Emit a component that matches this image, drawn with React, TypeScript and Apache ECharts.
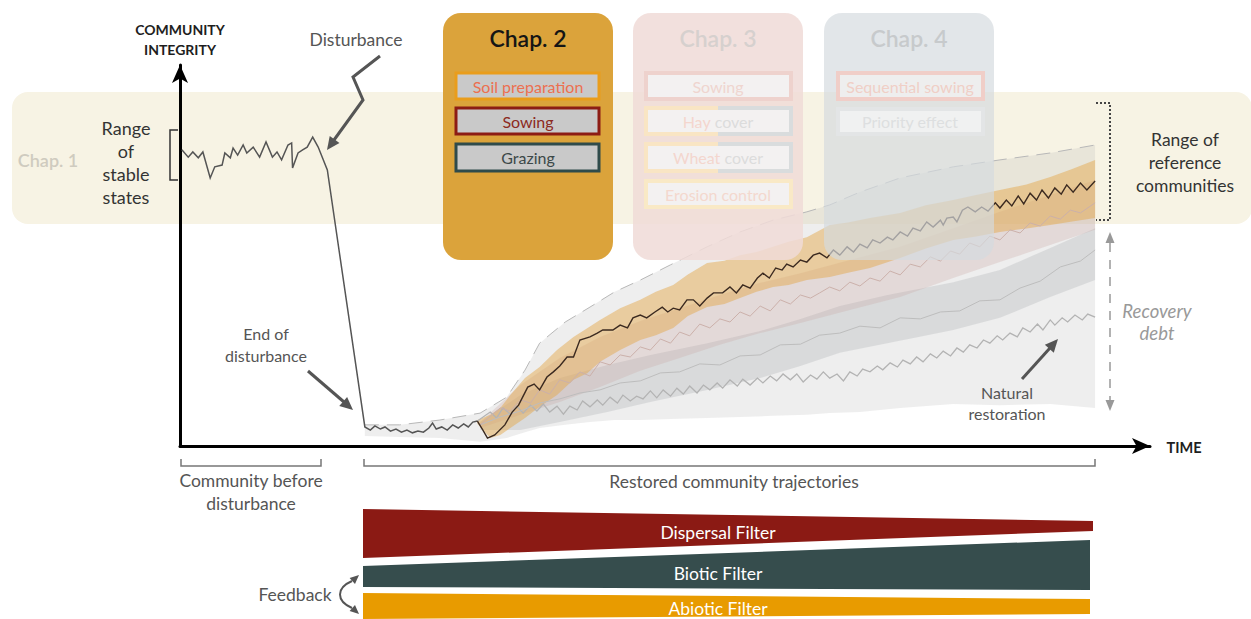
import React, { useEffect, useRef } from "react";
import * as echarts from "echarts";

// ---------- DATA (time units 0..106, integrity units 0..110) ----------
const disturbedTrajectory: [number, number][] = [
  [0.2, 85.5], [0.9, 83.4], [1.4, 84.9], [2.0, 83.2], [2.5, 84.9], [3.3, 77.4], [3.8, 80.6], [4.6, 81.1],
  [4.9, 84.6], [5.5, 83.2], [5.8, 86.0], [6.3, 84.0], [6.9, 86.9], [7.3, 84.6], [8.0, 86.3], [8.7, 83.4],
  [9.4, 87.8], [10.1, 83.4], [10.6, 84.9], [11.1, 82.6], [11.8, 86.9], [12.2, 87.5], [12.3, 80.3], [12.9, 84.6],
  [13.4, 85.5], [13.9, 86.3], [14.5, 89.2], [15.1, 86.3], [16.1, 79.7], [20.2, 5.5],
  [20.8, 4.6], [21.3, 5.8], [21.9, 4.9], [22.4, 5.5], [23.0, 4.3], [23.6, 4.9], [24.2, 4.0], [24.8, 4.6],
  [25.4, 3.8], [26.0, 4.3], [26.6, 4.0], [27.2, 5.2], [27.6, 6.6], [28.0, 4.9], [28.6, 5.5], [29.2, 4.6],
  [29.8, 6.1], [30.4, 5.2], [31.0, 6.4], [31.5, 5.5], [32.0, 6.9], [32.5, 7.2],
];

const restoredTrajectory: [number, number][] = [
  [32.5, 7.2], [33.1, 4.6], [33.6, 2.3], [34.4, 3.2], [35.5, 6.1], [36.3, 9.8], [37.0, 11.8], [38.0, 17.0],
  [38.7, 17.9], [39.3, 16.2], [40.1, 19.9], [40.8, 21.4], [41.5, 23.1], [42.3, 25.7], [43.0, 25.7], [43.7, 30.6],
  [44.8, 31.5], [45.6, 32.6], [46.2, 33.5], [47.3, 33.5], [48.1, 34.9], [48.9, 34.1], [49.5, 37.0], [50.3, 37.8],
  [51.0, 37.0], [51.9, 38.7], [52.7, 40.1], [53.3, 38.7], [53.9, 39.8], [54.6, 39.3], [55.4, 42.2], [56.1, 42.2],
  [56.8, 40.4], [57.6, 42.7], [58.3, 44.2], [59.3, 44.2], [60.1, 45.9], [60.8, 44.2], [61.5, 46.5], [62.3, 45.6],
  [63.1, 48.5], [63.7, 49.9], [64.4, 48.5], [65.1, 51.4], [65.8, 50.8], [66.3, 52.5], [67.0, 51.7], [67.8, 53.7],
  [68.5, 53.1], [69.2, 55.1], [69.9, 55.7], [70.7, 54.3], [71.4, 56.6], [72.1, 55.1], [72.9, 57.5], [73.6, 56.0],
  [74.3, 58.3], [75.1, 57.2], [75.7, 59.5], [76.5, 58.6], [77.3, 60.3], [77.9, 59.5], [78.7, 61.8], [79.5, 60.6],
  [80.1, 62.9], [80.9, 62.1], [81.6, 64.7], [82.3, 63.2], [83.1, 65.2], [83.4, 63.8], [83.8, 65.8], [84.5, 66.1],
  [84.9, 64.7], [85.5, 68.1], [86.1, 69.0], [86.9, 67.6], [87.6, 69.0], [88.3, 67.8], [89.1, 70.2], [89.6, 68.7],
  [90.3, 71.0], [90.9, 69.3], [91.6, 72.2], [92.2, 69.9], [92.9, 73.0], [93.6, 71.0], [94.2, 73.9], [94.9, 71.6],
  [95.6, 74.5], [96.3, 72.7], [96.9, 75.4], [97.6, 73.3], [98.4, 75.9], [99.1, 73.9], [100, 76.5],
];

const naturalTrajectory: [number, number][] = [
  [32.5, 7.2], [33.9, 9.8], [34.6, 8.1], [35.3, 11.0], [36.1, 9.2], [36.8, 11.5], [37.5, 9.5], [38.3, 11.8],
  [39.0, 10.1], [39.7, 12.1], [40.4, 9.8], [41.2, 11.5], [41.9, 9.2], [42.6, 11.5], [43.4, 10.4], [44.0, 13.0],
  [44.8, 11.3], [45.6, 13.3], [46.2, 11.8], [47.0, 14.1], [47.8, 12.4], [48.4, 14.7], [49.2, 13.0], [49.9, 14.4],
  [50.6, 13.6], [51.4, 15.9], [52.1, 13.9], [52.8, 16.2], [53.6, 14.4], [54.3, 16.7], [55.0, 15.0], [55.7, 17.3],
  [56.5, 15.3], [57.2, 17.6], [57.9, 16.2], [58.7, 18.2], [59.3, 16.7], [60.1, 19.1], [60.9, 17.3], [61.5, 19.3],
  [62.3, 17.6], [63.1, 19.6], [63.7, 18.2], [64.5, 20.2], [65.2, 18.8], [65.9, 20.8], [66.7, 19.1], [67.4, 20.8],
  [68.1, 18.5], [68.9, 20.5], [69.6, 19.3], [70.3, 21.4], [71.0, 19.6], [71.8, 20.8], [72.5, 18.8], [73.2, 21.4],
  [74.0, 20.2], [74.6, 22.2], [75.4, 21.4], [76.2, 23.1], [76.8, 22.0], [77.6, 24.0], [78.4, 22.8], [79.0, 24.8],
  [79.8, 23.7], [80.5, 25.7], [81.2, 24.3], [82.0, 26.6], [82.7, 25.4], [83.4, 27.4], [84.2, 26.0], [84.9, 28.3],
  [85.6, 27.1], [86.3, 29.2], [87.1, 28.3], [87.8, 30.6], [88.5, 29.7], [89.3, 31.8], [89.9, 30.6], [90.7, 32.6],
  [91.5, 31.5], [92.1, 34.1], [92.9, 32.9], [93.7, 35.2], [94.3, 33.5], [95.1, 36.4], [95.6, 34.9], [96.4, 37.0],
  [97.0, 35.8], [97.8, 37.8], [98.6, 36.4], [99.2, 38.1], [100, 37.2],
];

const mauveTrajectory: [number, number][] = [
  [32.8, 6.1], [35.0, 11.0], [36.1, 10.1], [37.2, 13.3], [38.3, 12.4], [39.3, 16.2], [40.4, 15.0], [41.5, 19.1],
  [42.6, 18.2], [43.7, 21.4], [44.8, 20.2], [45.9, 24.3], [47.0, 23.4], [48.1, 26.3], [49.2, 25.7], [50.3, 28.6],
  [51.4, 27.7], [52.5, 30.9], [53.6, 29.7], [54.6, 32.9], [55.7, 31.8], [56.8, 35.2], [57.9, 34.1], [59.0, 36.7],
  [60.1, 35.8], [61.2, 38.7], [62.3, 37.5], [63.4, 40.4], [64.5, 39.0], [65.6, 42.2], [66.7, 41.0], [67.8, 43.6],
  [68.9, 42.7], [69.9, 44.2], [71.0, 45.9], [72.1, 44.8], [73.2, 47.3], [74.3, 46.2], [75.4, 48.5], [76.5, 47.6],
  [77.6, 50.5], [78.7, 49.4], [79.8, 52.5], [80.9, 51.7], [82.0, 54.6], [83.1, 53.4], [84.2, 56.3], [85.2, 55.4],
  [86.3, 58.6], [87.4, 57.5], [88.5, 60.6], [89.6, 59.5], [90.7, 62.4], [91.8, 61.5], [92.9, 64.4], [94.0, 63.5],
  [95.1, 66.4], [96.2, 65.5], [97.3, 68.1], [98.4, 67.3], [100, 70.2],
];

const grayTrajectory: [number, number][] = [
  [32.8, 6.1], [35.0, 8.4], [37.2, 10.1], [39.3, 12.4], [41.5, 13.6], [43.7, 15.3], [45.9, 16.2], [48.1, 18.2],
  [50.3, 18.8], [52.5, 21.1], [54.6, 21.4], [56.8, 23.7], [59.0, 23.4], [61.2, 26.0], [63.4, 26.3], [65.6, 29.2],
  [67.8, 29.4], [69.9, 32.0], [72.1, 32.6], [74.3, 34.6], [76.5, 34.1], [78.7, 37.0], [80.9, 36.7], [83.1, 38.7],
  [85.2, 39.0], [87.4, 41.9], [89.6, 42.2], [91.8, 45.6], [94.0, 47.6], [96.2, 51.7], [98.4, 53.4], [100, 56.6],
];

// bands: [time, lower, upper]
const outerBand: [number, number, number][] = [
  [20.2, 2.9, 6.1], [24.0, 2.6, 6.1], [28.4, 2.3, 7.5], [32.8, 1.2, 9.5], [35.7, 2.3, 14.1], [37.7, 4.0, 21.9],
  [39.3, 5.2, 29.7], [42.1, 6.1, 35.8], [44.8, 6.9, 40.1], [47.5, 7.5, 44.5], [50.3, 7.5, 47.9], [53.6, 7.8, 52.3],
  [57.6, 8.1, 57.5], [61.2, 8.4, 61.8], [64.8, 8.7, 65.2], [68.5, 9.0, 67.6], [71.0, 9.5, 69.6], [74.3, 9.8, 73.3],
  [78.7, 11.0, 77.4], [84.5, 12.1, 80.6], [89.6, 11.8, 82.6], [95.1, 12.1, 84.6], [100, 11.0, 86.9],
];

const grayBand: [number, number, number][] = [
  [32.8, 4.6, 6.9], [37.2, 4.6, 14.7], [41.5, 6.9, 19.6], [46.7, 9.8, 23.4], [51.4, 12.7, 26.3], [57.6, 16.2, 29.7],
  [63.4, 19.6, 33.2], [67.8, 23.1, 36.7], [72.1, 26.9, 40.4], [77.3, 29.7, 43.6], [84.5, 33.5, 47.3],
  [89.6, 37.0, 50.8], [95.1, 43.0, 57.2], [100, 47.9, 62.9],
];

const mauveBand: [number, number, number][] = [
  [32.8, 5.2, 6.9], [37.2, 9.0, 17.6], [41.5, 12.7, 25.4], [45.9, 17.0, 31.5], [50.3, 21.7, 36.1], [54.6, 25.4, 39.8],
  [59.0, 29.2, 43.6], [63.4, 32.6, 47.1], [67.8, 35.5, 49.9], [73.2, 39.3, 53.7], [78.7, 43.0, 57.5],
  [84.5, 48.5, 62.9], [89.6, 53.1, 67.6], [95.1, 58.0, 72.5], [100, 62.4, 76.8],
];

const orangeBand: [number, number, number][] = [
  [32.5, 6.4, 7.5], [33.9, 2.3, 9.0], [35.0, 3.2, 11.0], [36.1, 5.2, 14.7], [37.7, 8.1, 19.6], [39.3, 11.3, 22.8],
  [41.2, 14.7, 27.7], [43.0, 19.1, 31.5], [44.5, 21.0, 34.0], [45.9, 24.3, 36.4], [48.1, 27.7, 39.8],
  [50.3, 30.6, 42.2], [52.0, 32.0, 44.5], [53.9, 34.1, 46.5], [55.5, 37.5, 49.5], [57.6, 40.1, 52.8],
  [59.5, 41.0, 53.5], [61.2, 42.7, 55.1], [63.0, 44.5, 56.0], [64.8, 45.9, 57.5], [66.5, 46.5, 59.0],
  [68.5, 47.9, 60.3], [71.0, 48.8, 63.8], [73.0, 50.0, 64.5], [75.4, 51.4, 65.8], [78.7, 54.3, 67.3],
  [81.5, 57.0, 69.5], [84.5, 59.5, 71.0], [87.0, 60.5, 72.5], [89.6, 61.8, 73.9], [92.5, 62.8, 75.5],
  [95.1, 63.8, 77.7], [97.5, 64.8, 80.0], [100, 65.8, 82.6],
];

// ---------- STYLE ----------
const FONT = "Lato, 'Open Sans', sans-serif";

function bandSeries(name: string, band: [number, number, number][], fill: string, edge?: string) {
  return {
    type: "custom",
    name,
    silent: true,
    clip: false,
    data: [[band[0][0], band[0][1]]],
    renderItem: (_params: any, api: any) => {
      const top = band.map((d) => api.coord([d[0], d[2]]));
      const bot = band.map((d) => api.coord([d[0], d[1]])).reverse();
      const children: any[] = [
        { type: "polygon", shape: { points: top.concat(bot) }, style: { fill } },
      ];
      if (edge) {
        children.push({
          type: "polyline",
          shape: { points: top },
          style: { stroke: edge, fill: null, lineWidth: 1, lineDash: [14, 8] },
        });
      }
      return { type: "group", children };
    },
  };
}

function lineSeries(name: string, data: [number, number][], color: string, width: number, z = 3) {
  return {
    type: "line",
    name,
    data,
    symbol: "none",
    silent: true,
    z,
    lineStyle: { color, width, join: "miter" },
  };
}

function txt(x: number, y: number, text: string, size: number, fill: string, extra: any = {}) {
  return {
    type: "text",
    x,
    y,
    z: 30,
    silent: true,
    style: {
      text,
      fill,
      fontSize: size,
      fontFamily: FONT,
      align: "center",
      verticalAlign: "middle",
      lineHeight: Math.round(size * 1.35),
      ...extra,
    },
  };
}

function rect(x: number, y: number, w: number, h: number, fill: string, stroke?: string, lw = 0, r = 0, z = 20) {
  return {
    type: "rect",
    z,
    silent: true,
    shape: { x, y, width: w, height: h, r },
    style: { fill, stroke: stroke || null, lineWidth: lw },
  };
}

function arrowHead(tip: [number, number], from: [number, number], len: number, half: number, color: string) {
  const dx = tip[0] - from[0];
  const dy = tip[1] - from[1];
  const L = Math.hypot(dx, dy);
  const ux = dx / L, uy = dy / L;
  const bx = tip[0] - ux * len, by = tip[1] - uy * len;
  return {
    type: "polygon",
    z: 30,
    silent: true,
    shape: { points: [tip, [bx - uy * half, by + ux * half], [bx + uy * half, by - ux * half]] },
    style: { fill: color },
  };
}

function pline(points: number[][], stroke: string, lw: number, extra: any = {}, z = 30) {
  return { type: "polyline", z, silent: true, shape: { points }, style: { stroke, lineWidth: lw, fill: null, ...extra } };
}

function buildGraphics() {
  const g: any[] = [];
  // background yellow band (Chap. 1)
  g.push(rect(12, 92, 1240, 132, "#f7f3e4", undefined, 0, 16, -10));
  g.push(txt(48, 160, "Chap. 1", 18, "#cfcbbf", { fontWeight: 600 }));

  // Chap 2
  g.push(rect(443, 13, 170, 247, "#dba33b", undefined, 0, 18, 20));
  g.push(txt(528, 38, "Chap. 2", 23, "#151515", { fontWeight: 600 }));
  g.push(rect(456, 73, 143, 26, "#c9c9c9", "#e99d1c", 3, 0, 21));
  g.push(txt(528, 86, "Soil preparation", 16, "#ec7050"));
  g.push(rect(456, 108, 143, 26, "#c9c9c9", "#8c1c14", 3, 0, 21));
  g.push(txt(528, 121, "Sowing", 16, "#8c2a22"));
  g.push(rect(456, 144, 143, 27, "#c9c9c9", "#2f4b4b", 3, 0, 21));
  g.push(txt(528, 157, "Grazing", 16, "#3c4848"));

  // Chap 3 (faded)
  const rich = {
    a: { fill: "#f4d6ce", fontSize: 16, fontFamily: FONT },
    b: { fill: "#dcdcdc", fontSize: 16, fontFamily: FONT },
  };
  g.push(rect(633, 13, 170, 247, "rgba(240,219,215,0.86)", undefined, 0, 18, 20));
  g.push(txt(718, 38, "Chap. 3", 23, "#d6d0ce", { fontWeight: 600 }));
  g.push(rect(646, 73, 145, 26, "#f3f1f1", "#eed2cd", 4, 0, 21));
  g.push(txt(718, 86, "Sowing", 16, "#efd5cf"));
  g.push(rect(646, 108, 145, 26, "#f3f1f1", "#d9dcdd", 4, 0, 21));
  g.push(pline([[718, 108], [646, 108], [646, 134], [718, 134]], "#f9e5c4", 4, {}, 22));
  g.push(txt(718, 121, "{a|Hay} {b|cover}", 16, "#dfdfdf", { rich }));
  g.push(rect(646, 144, 145, 27, "#f3f1f1", "#d9dcdd", 4, 0, 21));
  g.push(pline([[718, 144], [646, 144], [646, 171], [718, 171]], "#f9e5c4", 4, {}, 22));
  g.push(txt(718, 157, "{a|Wheat} {b|cover}", 16, "#dfdfdf", { rich }));
  g.push(rect(646, 181, 145, 26, "#f3f1f1", "#f9e9c6", 4, 0, 21));
  g.push(txt(718, 194, "Erosion control", 16, "#f4d8ce"));

  // Chap 4 (faded)
  g.push(rect(824, 13, 170, 247, "rgba(212,218,222,0.68)", undefined, 0, 18, 20));
  g.push(txt(909, 38, "Chap. 4", 23, "#c7cacc", { fontWeight: 600 }));
  g.push(rect(838, 73, 145, 26, "#eeeeee", "#f0cec8", 4, 0, 21));
  g.push(txt(910, 86, "Sequential sowing", 16, "#f0cfc6"));
  g.push(rect(838, 109, 145, 25, "#f0f1f1", "#e3e5e6", 4, 0, 21));
  g.push(txt(910, 121, "Priority effect", 16, "#dddfe0"));

  // axis titles
  g.push(txt(180, 29, "COMMUNITY", 14, "#1e1e1e", { fontWeight: "bold" }));
  g.push(txt(180, 49, "INTEGRITY", 14, "#1e1e1e", { fontWeight: "bold" }));
  g.push(txt(1184, 447, "TIME", 14.5, "#1e1e1e", { fontWeight: "bold" }));

  // range of stable states
  g.push(pline([[178, 130], [170, 130], [170, 180], [178, 180]], "#333", 1.5));
  g.push(txt(126, 162, "Range\nof\nstable\nstates", 18, "#333", { lineHeight: 23 }));

  // disturbance
  g.push(txt(356, 39, "Disturbance", 17.5, "#555"));
  g.push(pline([[380, 56], [353, 77], [363, 100], [334, 140]], "#555", 3));
  g.push(arrowHead([327, 150], [363, 100], 13, 6, "#555"));

  // end of disturbance
  g.push(txt(266, 344, "End of\ndisturbance", 16, "#555", { lineHeight: 22 }));
  g.push(pline([[308, 371], [344, 402]], "#555", 3));
  g.push(arrowHead([353, 410], [308, 371], 13, 6, "#555"));

  // reference communities
  g.push(pline([[1096, 103], [1110, 103], [1110, 220], [1096, 220]], "#444", 2, { lineDash: [2, 2] }));
  g.push(txt(1185, 162, "Range of\nreference\ncommunities", 17.5, "#333", { lineHeight: 23 }));

  // recovery debt
  g.push(pline([[1110, 243], [1110, 400]], "#999", 1.5, { lineDash: [9, 8] }));
  g.push(arrowHead([1110, 232], [1110, 260], 11, 4.5, "#999"));
  g.push(arrowHead([1110, 411], [1110, 380], 11, 4.5, "#999"));
  g.push(txt(1157, 322, "Recovery\ndebt", 18.5, "#999", { fontStyle: "italic", lineHeight: 22 }));

  // natural restoration
  g.push(pline([[1022, 379], [1050, 348]], "#555", 3));
  g.push(arrowHead([1058, 339], [1022, 379], 13, 6, "#555"));
  g.push(txt(1007, 403, "Natural\nrestoration", 16, "#555", { lineHeight: 21 }));

  // bottom brackets
  g.push(pline([[181, 459], [181, 466], [321, 466], [321, 459]], "#777", 1.5));
  g.push(txt(251, 492, "Community before\ndisturbance", 17.5, "#555", { lineHeight: 23 }));
  g.push(pline([[364, 459], [364, 466], [1095, 466], [1095, 459]], "#777", 1.5));
  g.push(txt(734, 481, "Restored community trajectories", 17.5, "#555"));

  // filters
  g.push({ type: "polygon", z: 20, silent: true, shape: { points: [[363, 509], [1093, 521], [1093, 531], [363, 558]] }, style: { fill: "#8b1a14" } });
  g.push(txt(718, 532, "Dispersal Filter", 17.5, "#ffffff"));
  g.push({ type: "polygon", z: 20, silent: true, shape: { points: [[363, 566], [1090, 540], [1090, 590], [363, 587]] }, style: { fill: "#364d4d" } });
  g.push(txt(718, 573, "Biotic Filter", 17.5, "#ffffff"));
  g.push({ type: "polygon", z: 20, silent: true, shape: { points: [[363, 593], [1090, 599], [1090, 614], [363, 619]] }, style: { fill: "#e89b00" } });
  g.push(txt(718, 608, "Abiotic Filter", 17.5, "#ffffff"));

  // feedback
  g.push(txt(295, 594, "Feedback", 17.5, "#555"));
  g.push({
    type: "bezierCurve", z: 30, silent: true,
    shape: { x1: 352, y1: 581, x2: 352, y2: 608, cpx1: 336, cpy1: 588, cpx2: 336, cpy2: 601 },
    style: { stroke: "#555", lineWidth: 2, fill: null },
  });
  g.push(arrowHead([359, 575], [349, 584], 9, 4, "#555"));
  g.push(arrowHead([359, 614], [349, 605], 9, 4, "#555"));
  return g;
}

export default function App() {
  const ref = useRef<HTMLDivElement>(null);
  useEffect(() => {
    if (!ref.current) return;
    const chart = echarts.init(ref.current, null, { renderer: "svg" });
    chart.setOption({
      animation: false,
      backgroundColor: "#ffffff",
      grid: { left: 180, top: 65, width: 970, height: 381, containLabel: false, outerBoundsMode: "none" },
      xAxis: {
        type: "value",
        min: 0,
        max: 106,
        axisLine: { show: true, symbol: ["none", "arrow"], symbolSize: [12, 18], lineStyle: { color: "#000", width: 3 } },
        axisTick: { show: false },
        axisLabel: { show: false },
        splitLine: { show: false },
      },
      yAxis: {
        type: "value",
        min: 0,
        max: 110,
        axisLine: { show: true, symbol: ["none", "arrow"], symbolSize: [12, 18], lineStyle: { color: "#000", width: 3 } },
        axisTick: { show: false },
        axisLabel: { show: false },
        splitLine: { show: false },
      },
      series: [
        bandSeries("Natural range", outerBand, "rgba(185,185,185,0.24)", "#b8b8b8"),
        bandSeries("Gray band", grayBand, "rgba(165,168,172,0.28)"),
        bandSeries("Mauve band", mauveBand, "rgba(200,165,160,0.28)"),
        bandSeries("Chap. 2 band", orangeBand, "rgba(228,170,80,0.5)"),
        lineSeries("Natural restoration", naturalTrajectory, "#b3b3b3", 1.3),
        lineSeries("Gray trajectory", grayTrajectory, "#bdbdbd", 1),
        lineSeries("Mauve trajectory", mauveTrajectory, "#cbb0aa", 1),
        lineSeries("Before disturbance", disturbedTrajectory, "#555555", 1.5, 4),
        lineSeries("Restored trajectory", restoredTrajectory, "#3b2a20", 1.4, 5),
      ],
      graphic: buildGraphics(),
    });
    return () => chart.dispose();
  }, []);
  return <div ref={ref} style={{ position: "absolute", left: 0, top: 0, width: 1251, height: 619 }} />;
}
